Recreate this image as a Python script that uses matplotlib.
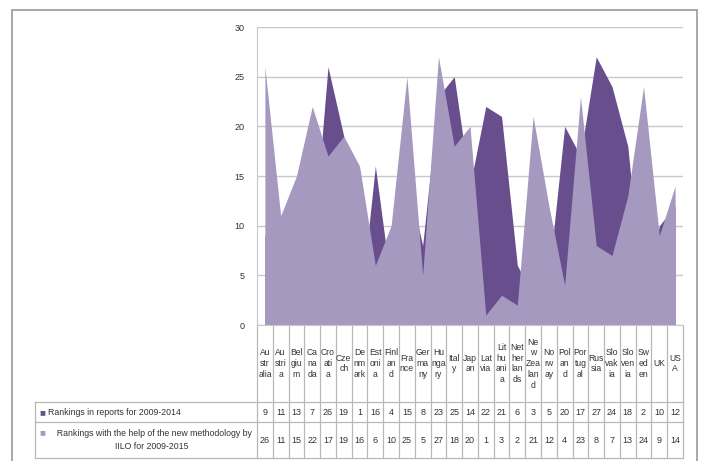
import numpy as np
import matplotlib.pyplot as plt
from matplotlib.patches import Rectangle

countries = ['Australia', 'Austria', 'Belgium', 'Canada', 'Croatia', 'Czech', 'Denmark',
             'Estonia', 'Finland', 'France', 'Germany', 'Hungary', 'Italy', 'Japan',
             'Latvia', 'Lithuania', 'Netherlands', 'New Zealand', 'Norway', 'Poland',
             'Portugal', 'Russia', 'Slovakia', 'Slovenia', 'Sweden', 'UK', 'USA']
# wrapped the way the table cells show them
cell_labels = ['Au\nstr\nalia', 'Au\nstri\na', 'Bel\ngiu\nm', 'Ca\nna\nda', 'Cro\nati\na',
               'Cze\nch', 'De\nnm\nark', 'Est\noni\na', 'Finl\nan\nd', 'Fra\nnce',
               'Ger\nma\nny', 'Hu\nnga\nry', 'Ital\ny', 'Jap\nan', 'Lat\nvia',
               'Lit\nhu\nani\na', 'Net\nher\nlan\nds', 'Ne\nw\nZea\nlan\nd', 'No\nrw\nay',
               'Pol\nan\nd', 'Por\ntug\nal', 'Rus\nsia', 'Slo\nvak\nia', 'Slo\nven\nia',
               'Sw\ned\nen', 'UK', 'US\nA']
rank_2014 = [9, 11, 13, 7, 26, 19, 1, 16, 4, 15, 8, 23, 25, 14, 22, 21, 6, 3, 5, 20, 17, 27, 24, 18, 2, 10, 12]
rank_2015 = [26, 11, 15, 22, 17, 19, 16, 6, 10, 25, 5, 27, 18, 20, 1, 3, 2, 21, 12, 4, 23, 8, 7, 13, 24, 9, 14]
name_2014 = 'Rankings in reports for 2009-2014'
name_2015 = 'Rankings with the help of the new methodology by\nIILO for 2009-2015'

dark = '#694e8e'
light = '#a699bf'
plt.rcParams['font.family'] = ['Liberation Sans', 'DejaVu Sans']

W, H = 704, 461
fig = plt.figure(figsize=(W / 100, H / 100), dpi=100)

# outer frame
fig.patches.append(Rectangle((12 / W, -0.01), (697 - 12) / W, 1 - 10 / H + 0.01,
                             transform=fig.transFigure, fill=False, ec='#9a9a9a', lw=1.2))

left, right, top, bottom = 257, 683, 27, 325
ax = fig.add_axes([left / W, 1 - bottom / H, (right - left) / W, (bottom - top) / H])

x = np.arange(len(countries))
ax.fill_between(x, rank_2014, color=dark, lw=0)
ax.fill_between(x, rank_2015, color=light, lw=0)

ax.set_xlim(-0.5, len(countries) - 0.5)
ax.set_ylim(0, 30)
ax.set_yticks(range(0, 31, 5))
ax.tick_params(axis='y', length=0, labelsize=6.5, pad=9, colors='#333333')
ax.set_xticks([])
ax.grid(axis='y', color='#c8c8c8', lw=1)
ax.set_axisbelow(True)
for s in ['top', 'right']:
    ax.spines[s].set_visible(False)
ax.spines['left'].set_color('#c8c8c8')
ax.spines['bottom'].set_color('#c8c8c8')

# data table below the plot, y in axes fraction
def yfrac(py):
    return (bottom - py) / (bottom - top)

r0, r1, r2, r3 = yfrac(325), yfrac(402), yfrac(422), yfrac(458)
tr = ax.get_xaxis_transform()
lc = '#b8b8b8'
for b in np.arange(len(countries) + 1) - 0.5:
    ax.plot([b, b], [r0, r3], transform=tr, color=lc, lw=0.9, clip_on=False)
xl = (35 - left) / (right - left) * len(countries) - 0.5
for yy in [r1, r2, r3]:
    ax.plot([xl, len(countries) - 0.5], [yy, yy], transform=tr, color=lc, lw=0.9, clip_on=False)
ax.plot([xl, xl], [r1, r3], transform=tr, color=lc, lw=0.9, clip_on=False)

for i, lab in enumerate(cell_labels):
    ax.text(i, (r0 + r1) / 2, lab, transform=tr, ha='center', va='center',
            fontsize=6.2, linespacing=1.25, color='#333333')
    ax.text(i, (r1 + r2) / 2, str(rank_2014[i]), transform=tr, ha='center', va='center',
            fontsize=6.5, color='#333333')
    ax.text(i, (r2 + r3) / 2, str(rank_2015[i]), transform=tr, ha='center', va='center',
            fontsize=6.5, color='#333333')

ax.text(xl + 0.3, (r1 + r2) / 2, '\u25a0', transform=tr, ha='left', va='center',
        fontsize=7, color=dark)
ax.text(xl + 0.8, (r1 + r2) / 2, name_2014, transform=tr, ha='left', va='center',
        fontsize=6.3, color='#333333')
ax.text(xl + 0.3, (r2 + r3) / 2 + 0.027, '\u25a0', transform=tr, ha='left', va='center',
        fontsize=7, color=light)
ax.text((xl - 0.5) / 2 + 0.35, (r2 + r3) / 2, '  ' + name_2015, transform=tr, ha='center',
        va='center', fontsize=6.3, color='#333333', multialignment='center', linespacing=1.5)

fig.savefig('out.png', dpi=100)
